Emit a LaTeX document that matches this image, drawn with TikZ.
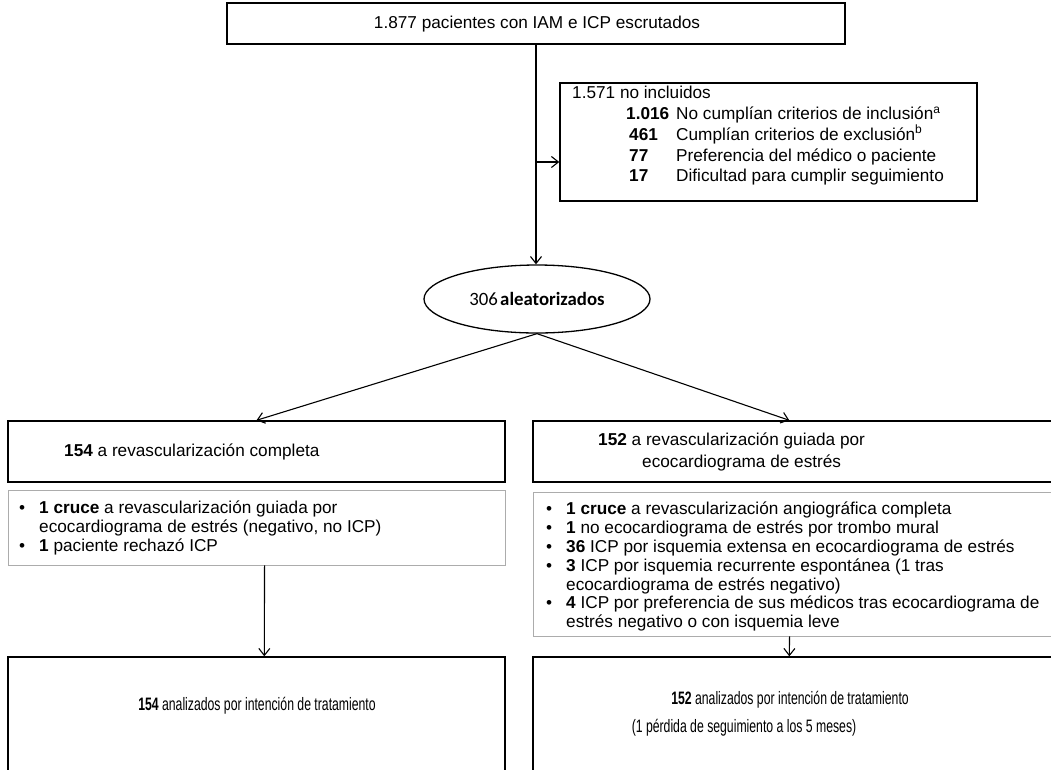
\documentclass[tikz,border=0pt]{standalone}
\usepackage{fontspec}
\setmainfont{Liberation Sans}
\newfontfamily\calib{Carlito}
\usetikzlibrary{arrows.meta,shapes.geometric,calc}
\newcommand\fs{\fontsize{17.2}{18.8}\selectfont}
\newcommand\bul{\makebox[20pt][l]{\textbullet}}
\newcommand\ind{\hspace*{20pt}}
\newcommand\cond[1]{\scalebox{0.68}[1]{#1}}
\begin{document}
\begin{tikzpicture}[x=1pt,y=-1pt,
  box/.style={draw, line width=1.4pt, inner sep=0, fill=white},
  subbox/.style={draw=gray!65, line width=0.9pt, inner sep=0, fill=white},
  txt/.style={inner sep=0, font=\fs, align=left},
  arr/.style={-{Straight Barb[length=7pt,width=11pt]}, line width=1.1pt},
  ln/.style={line width=1.1pt}]
\useasboundingbox (0,0) rectangle (1051,769);
\fill[white] (0,0) rectangle (1051,769);

% boxes
\node[box, minimum width=618pt, minimum height=41pt] (top) at (536,23.5) {};
\node[box, minimum width=417pt, minimum height=118pt] (excl) at (768.5,142) {};
\node[draw, ellipse, line width=1.3pt, minimum width=226pt, minimum height=68pt, inner sep=0] (ell) at (537,299) {};
\node[box, minimum width=497pt, minimum height=61pt] (lbox) at (256.5,451.5) {};
\node[subbox, minimum width=497pt, minimum height=75pt] (lsub) at (256.5,527.5) {};
\node[box, minimum width=527pt, minimum height=61pt] (rbox) at (796.5,451.5) {};
\node[subbox, minimum width=527pt, minimum height=144pt] (rsub) at (796.5,564) {};
\node[box, minimum width=497pt, minimum height=143pt] (lbot) at (256.5,728.5) {};
\node[box, minimum width=527pt, minimum height=143pt] (rbot) at (796.5,728.5) {};

% texts
\node[txt] (ttop) at (537,24) {1.877 pacientes con IAM e ICP escrutados};
\node[txt, anchor=north west, font=\fontsize{17.2}{20.8}\selectfont] (texcl) at (572,86) {1.571 no incluidos\\
\hspace*{54pt}\makebox[50pt][l]{\textbf{1.016}}No cumplían criterios de inclusión\textsuperscript{a}\\
\hspace*{57pt}\makebox[47pt][l]{\textbf{461}}Cumplían criterios de exclusión\textsuperscript{b}\\
\hspace*{57pt}\makebox[47pt][l]{\textbf{77}}Preferencia del médico o paciente\\
\hspace*{57pt}\makebox[47pt][l]{\textbf{17}}Dificultad para cumplir seguimiento};
\node[inner sep=0, font=\calib\fontsize{18.8}{20}\selectfont] (tell) at (ell) {306\hspace{0.12em}\textbf{aleatorizados}};
\node[txt, anchor=west] (tlbox) at (64,452) {\textbf{154} a revascularización completa};
\node[txt, anchor=north west] (tlsub) at (19,501) {\bul\textbf{1 cruce} a revascularización guiada por\\
\ind ecocardiograma de estrés (negativo, no ICP)\\
\bul\textbf{1} paciente rechazó ICP};
\node[txt, anchor=north west, font=\fontsize{17.2}{22}\selectfont] (trbox) at (598,433) {\textbf{152} a revascularización guiada por\\
\hspace*{44pt}ecocardiograma de estrés};
\node[txt, anchor=north west] (trsub) at (546,502) {\bul\textbf{1 cruce} a revascularización angiográfica completa\\
\bul\textbf{1} no ecocardiograma de estrés por trombo mural\\
\bul\textbf{36} ICP por isquemia extensa en ecocardiograma de estrés\\
\bul\textbf{3} ICP por isquemia recurrente espontánea (1 tras\\
\ind ecocardiograma de estrés negativo)\\
\bul\textbf{4} ICP por preferencia de sus médicos tras ecocardiograma de\\
\ind estrés negativo o con isquemia leve};
\node[txt, font=\fontsize{18}{19}\selectfont] (tlbot) at (257,706) {\cond{\textbf{154} analizados por intención de tratamiento}};
\node[txt, font=\fontsize{18}{19}\selectfont] (trbot1) at (790,700) {\cond{\textbf{152} analizados por intención de tratamiento}};
\node[txt, font=\fontsize{18}{19}\selectfont] (trbot2) at (744,728) {\cond{(1 pérdida de seguimiento a los 5 meses)}};

% connectors
\coordinate (ea) at (536,162);
\draw[arr] (top.south) -- (top.south |- ell.north);
\draw[arr] (ea) -- (ea -| excl.west);
\draw[arr] (ell.south) -- (lbox.north);
\draw[arr] (ell.south) -- ([xshift=257pt]rbox.north west);
\draw[arr] ([xshift=257pt]lsub.south west) -- ([xshift=257pt]lbot.north west);
\draw[arr] ([xshift=257pt]rsub.south west) -- ([xshift=257pt]rbot.north west);
\end{tikzpicture}
\end{document}
